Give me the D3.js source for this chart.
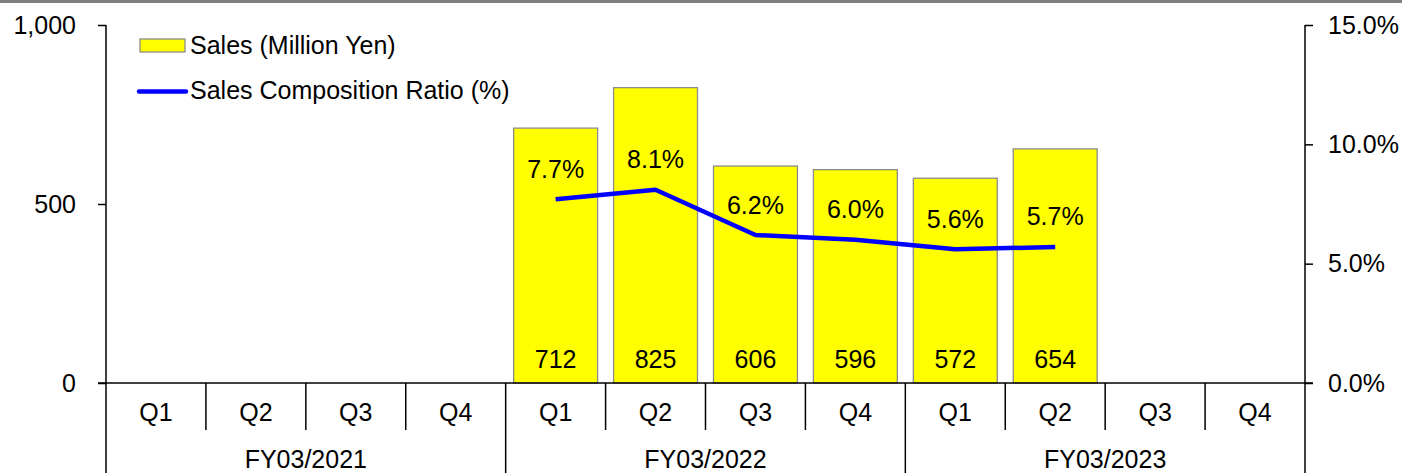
<!DOCTYPE html>
<html>
<head>
<meta charset="utf-8">
<script src="https://cdn.jsdelivr.net/npm/d3@7"></script>
<style>
  html, body { margin: 0; padding: 0; background: #fff; }
  svg { display: block; font-family: "Liberation Sans", Arial, sans-serif; }
</style>
</head>
<body>
<svg id="chart" width="1402" height="473"></svg>
<script>
// Quarterly sales and composition ratio
const fiscalYears = ["FY03/2021", "FY03/2022", "FY03/2023"];
const quarters = ["Q1", "Q2", "Q3", "Q4"];
const sales = [null, null, null, null, 712, 825, 606, 596, 572, 654, null, null];
const ratio = [null, null, null, null, 7.7, 8.1, 6.2, 6.0, 5.6, 5.7, null, null];
const salesTicks = [0, 500, 1000];
const ratioTicks = [0, 5, 10, 15];

const slots = d3.range(12);
const svg = d3.select("#chart");
const W = 1402, H = 473;
const plotLeft = 106, plotRight = 1305, plotTop = 25, base = 383;
const FS = 25;

// top rule
svg.append("rect").attr("x", 0).attr("y", 0).attr("width", W).attr("height", 3).attr("fill", "#808080");

const x = d3.scaleBand().domain(slots).range([plotLeft, plotRight]).paddingInner(0.16).paddingOuter(0.08);
const xSlot = d3.scaleBand().domain(slots).range([plotLeft, plotRight]);
const yL = d3.scaleLinear().domain([0, 1000]).range([base, plotTop]);
const yR = d3.scaleLinear().domain([0, 15]).range([base, plotTop]);

// bars
const barData = slots.filter(i => sales[i] != null);
svg.append("g").selectAll("rect").data(barData).join("rect")
  .attr("x", i => x(i)).attr("width", x.bandwidth())
  .attr("y", i => yL(sales[i])).attr("height", i => base - yL(sales[i]))
  .attr("fill", "#FFFF00").attr("stroke", "#8c8c8c").attr("stroke-width", 1.3);

// left axis
const axL = svg.append("g").attr("transform", `translate(${plotLeft},0)`)
  .call(d3.axisLeft(yL).tickValues(salesTicks).tickFormat(d3.format(",")).tickSize(8).tickPadding(22));
// right axis
const axR = svg.append("g").attr("transform", `translate(${plotRight},0)`)
  .call(d3.axisRight(yR).tickValues(ratioTicks).tickFormat(d => d.toFixed(1) + "%").tickSize(8).tickPadding(15));
[axL, axR].forEach(a => {
  a.select(".domain").remove();
  a.selectAll(".tick line").attr("stroke", "#000").attr("stroke-width", 1.5);
  a.selectAll("text").attr("font-size", FS).attr("fill", "#000").attr("font-family", "Liberation Sans, Arial, sans-serif");
});
svg.append("line").attr("x1", plotLeft).attr("x2", plotLeft).attr("y1", plotTop).attr("y2", H).attr("stroke", "#000").attr("stroke-width", 1.5);
svg.append("line").attr("x1", plotRight).attr("x2", plotRight).attr("y1", plotTop).attr("y2", H).attr("stroke", "#000").attr("stroke-width", 1.5);

// baseline
svg.append("line").attr("x1", plotLeft - 8).attr("x2", plotRight + 8).attr("y1", base).attr("y2", base)
  .attr("stroke", "#000").attr("stroke-width", 1.5);

// quarter separators and labels
const cat = svg.append("g");
slots.forEach(i => {
  const xs = xSlot(i);
  if (i % 4 !== 0) {
    cat.append("line").attr("x1", xs).attr("x2", xs).attr("y1", base).attr("y2", 430)
      .attr("stroke", "#000").attr("stroke-width", 1.5);
  }
  cat.append("text").attr("x", xs + xSlot.bandwidth() / 2).attr("y", 421)
    .attr("text-anchor", "middle").attr("font-size", FS).text(quarters[i % 4]);
});
fiscalYears.forEach((fy, k) => {
  const xs = xSlot(k * 4);
  if (k > 0) {
    cat.append("line").attr("x1", xs).attr("x2", xs).attr("y1", base).attr("y2", H)
      .attr("stroke", "#000").attr("stroke-width", 1.5);
  }
  cat.append("text").attr("x", xs + xSlot.bandwidth() * 2).attr("y", 468)
    .attr("text-anchor", "middle").attr("font-size", FS).text(fy);
});

// ratio line
const lineData = slots.filter(i => ratio[i] != null);
svg.append("path").datum(lineData)
  .attr("d", d3.line().x(i => xSlot(i) + xSlot.bandwidth() / 2).y(i => yR(ratio[i])))
  .attr("fill", "none").attr("stroke", "#0000FF").attr("stroke-width", 4.5).attr("stroke-linejoin", "round");

// value labels
svg.append("g").selectAll("text").data(barData).join("text")
  .attr("x", i => xSlot(i) + xSlot.bandwidth() / 2).attr("y", 368)
  .attr("text-anchor", "middle").attr("font-size", FS).text(i => sales[i]);
svg.append("g").selectAll("text").data(lineData).join("text")
  .attr("x", i => xSlot(i) + xSlot.bandwidth() / 2).attr("y", i => yR(ratio[i]) - 21.5)
  .attr("text-anchor", "middle").attr("font-size", FS).text(i => ratio[i].toFixed(1) + "%");

// legend
const lg = svg.append("g");
lg.append("rect").attr("x", 140).attr("y", 39).attr("width", 45).attr("height", 13)
  .attr("fill", "#FFFF00").attr("stroke", "#8c8c8c").attr("stroke-width", 1.3);
lg.append("text").attr("x", 190).attr("y", 54).attr("font-size", FS).text("Sales (Million Yen)");
lg.append("line").attr("x1", 139).attr("x2", 186).attr("y1", 91.5).attr("y2", 91.5)
  .attr("stroke", "#0000FF").attr("stroke-width", 4.5).attr("stroke-linecap", "round");
lg.append("text").attr("x", 190).attr("y", 98.5).attr("font-size", FS).text("Sales Composition Ratio (%)");
</script>
</body>
</html>
